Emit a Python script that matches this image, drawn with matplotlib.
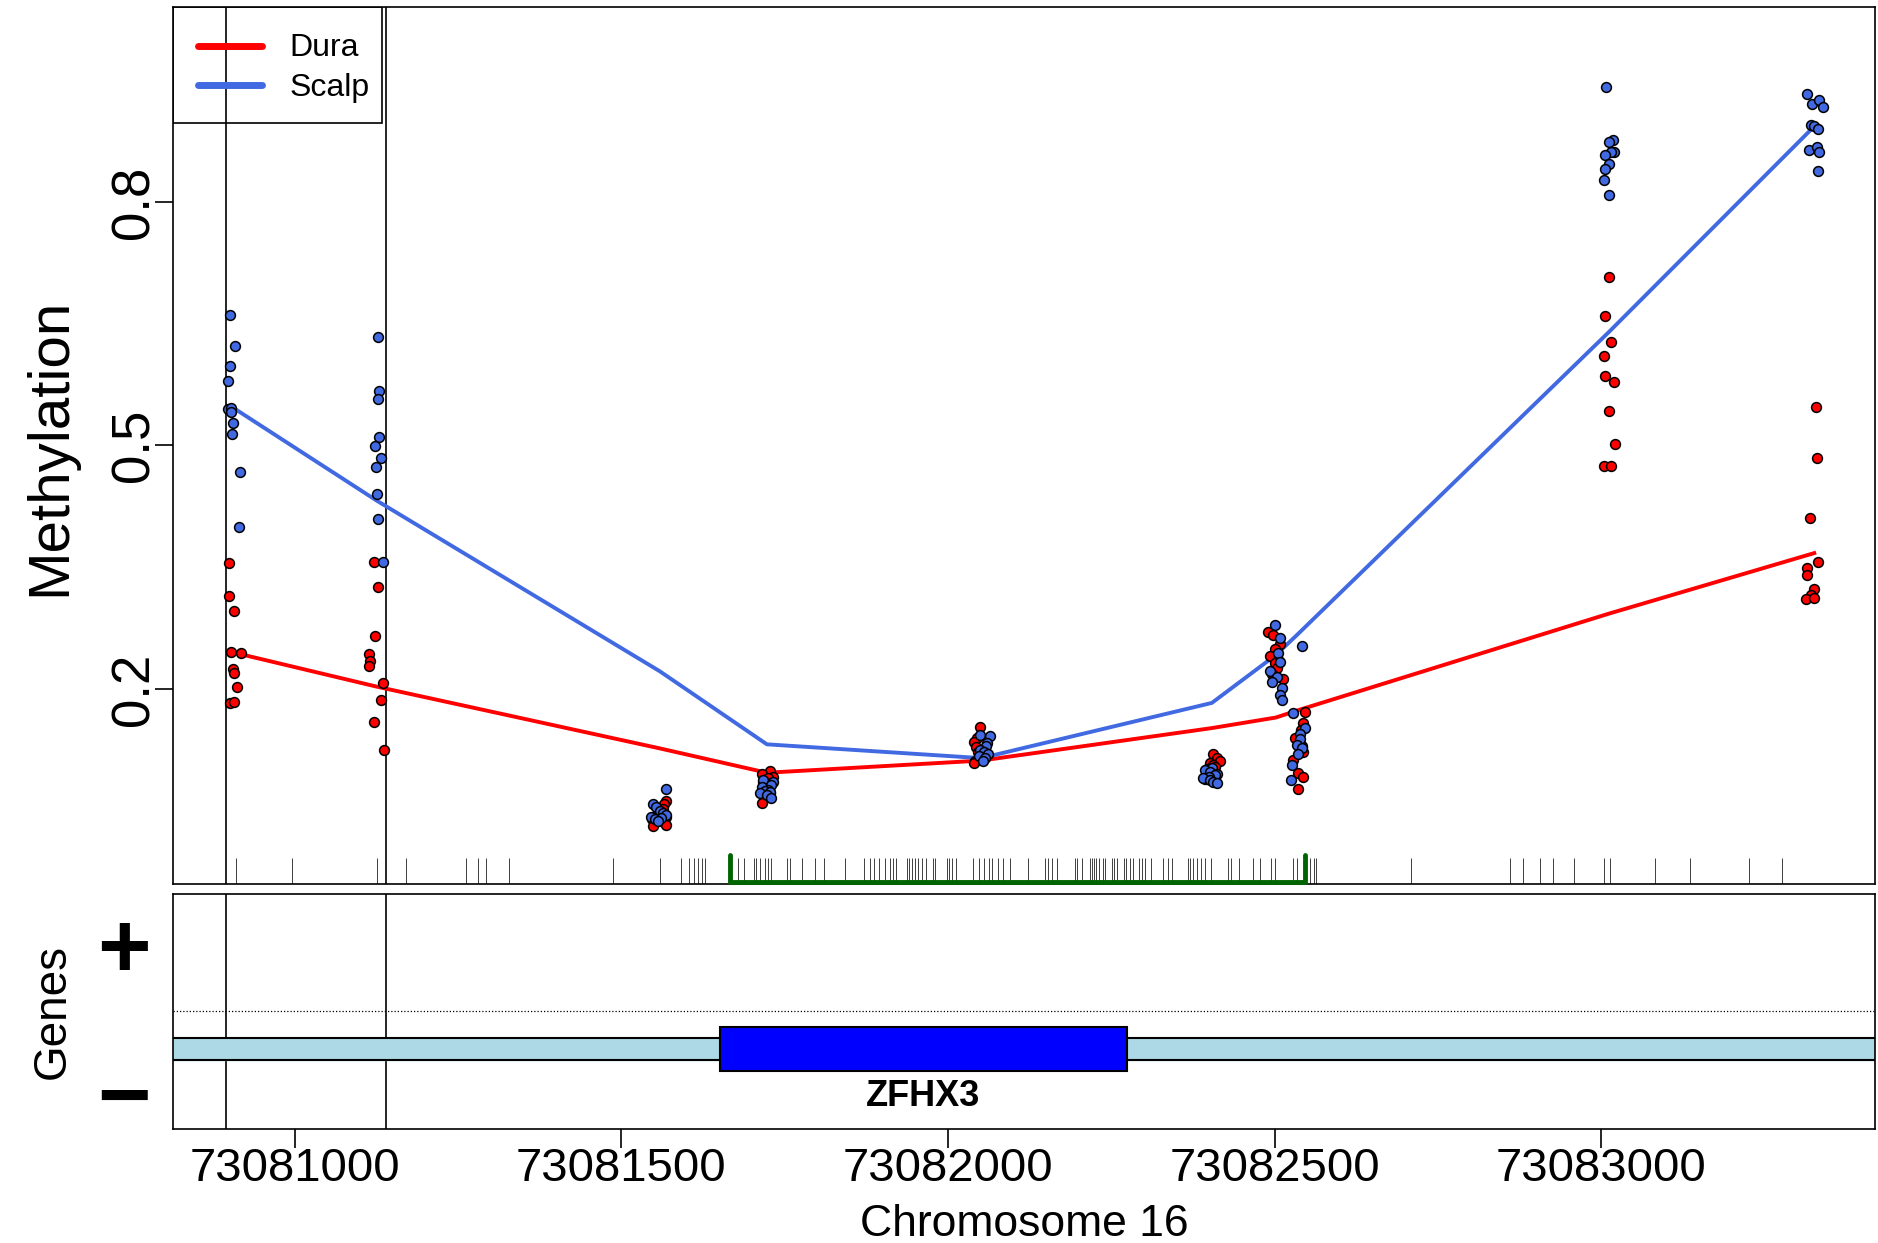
import matplotlib
matplotlib.use("Agg")
import matplotlib.pyplot as plt
from matplotlib.patches import Rectangle

plt.rcParams['font.family'] = ['Liberation Sans', 'DejaVu Sans']

# CpG sites that carry measurements (bp, chromosome 16)
site_pos = [73080907, 73081126, 73081559, 73081723, 73082051,
            73082404, 73082502, 73082536, 73083012, 73083326]

# smoothed group curves at each site
dura_curve = [0.245, 0.203, 0.127, 0.097, 0.112, 0.152, 0.165, 0.174, 0.293, 0.3675]
scalp_curve = [0.546, 0.432, 0.222, 0.132, 0.115, 0.183, 0.242, 0.268, 0.640, 0.893]

# per-sample methylation at each site and the jitter (bp) seen in the plot
dura_vals = [
    [0.355, 0.315, 0.296, 0.246, 0.244, 0.225, 0.220, 0.202, 0.183, 0.184],
    [0.357, 0.326, 0.265, 0.2435, 0.235, 0.228, 0.208, 0.187, 0.160, 0.125],
    [0.062, 0.058, 0.052, 0.047, 0.043, 0.040, 0.037, 0.036, 0.033, 0.032],
    [0.099, 0.095, 0.092, 0.090, 0.086, 0.084, 0.080, 0.078, 0.072, 0.060],
    [0.153, 0.140, 0.135, 0.129, 0.125, 0.122, 0.118, 0.115, 0.112, 0.109],
    [0.120, 0.115, 0.112, 0.109, 0.106, 0.104, 0.101, 0.098, 0.094, 0.089],
    [0.270, 0.267, 0.255, 0.250, 0.241, 0.236, 0.232, 0.226, 0.218, 0.212],
    [0.172, 0.158, 0.150, 0.140, 0.130, 0.123, 0.113, 0.097, 0.092, 0.077],
    [0.707, 0.659, 0.628, 0.610, 0.585, 0.578, 0.543, 0.502, 0.475, 0.475],
    [0.547, 0.485, 0.411, 0.357, 0.349, 0.341, 0.323, 0.316, 0.311, 0.312],
]
dura_jit = [
    [-7, -8, 0.5, -3.5, 10.7, -1, 0.5, 5.6, -6, 0.5],
    [-5, 2.5, -2.5, -12, -10, -12, 9, 6, -5, 10.7],
    [9, 7, 5, -3, 10, -12, 2, -8, 10, -11],
    [4.6, -8, 9.7, 2, -5.6, 7, -3, 0, 5, -8],
    [-2.6, -6.6, -11.7, -7.6, 3, -5, 0, 5, -9, -11],
    [2.5, 8.6, 12.7, -2.6, 2.5, 5, -7.6, -5, 0, -10],
    [-11.8, -4, 6, -2, -9.2, 4, -1.5, 2, -6, 11.2],
    [10.7, 8.2, 4, -4.6, 6, 8.2, -8.2, 0.5, 8.2, 0.5],
    [0.5, -5.6, 2.6, -7.2, -6, 8, 0, 9.7, -7.2, 2.6],
    [2, 4.6, -7, 5.6, -10.7, -10.7, -1, -4.6, -12, -1],
]
scalp_vals = [
    [0.661, 0.623, 0.598, 0.580, 0.545, 0.546, 0.541, 0.528, 0.514, 0.467, 0.400],
    [0.633, 0.567, 0.557, 0.510, 0.499, 0.484, 0.474, 0.440, 0.410, 0.357],
    [0.077, 0.058, 0.055, 0.050, 0.047, 0.045, 0.043, 0.041, 0.040, 0.038],
    [0.088, 0.085, 0.082, 0.079, 0.076, 0.075, 0.073, 0.072, 0.070, 0.066],
    [0.143, 0.142, 0.134, 0.130, 0.125, 0.123, 0.120, 0.118, 0.115, 0.112],
    [0.103, 0.100, 0.098, 0.096, 0.094, 0.092, 0.090, 0.088, 0.086, 0.084],
    [0.279, 0.263, 0.245, 0.233, 0.222, 0.215, 0.209, 0.201, 0.193, 0.187],
    [0.2525, 0.170, 0.152, 0.145, 0.138, 0.131, 0.127, 0.120, 0.107, 0.088],
    [0.942, 0.876, 0.874, 0.862, 0.861, 0.858, 0.847, 0.841, 0.827, 0.809],
    [0.933, 0.921, 0.925, 0.917, 0.895, 0.894, 0.890, 0.864, 0.868, 0.861, 0.838],
]
scalp_jit = [
    [-6, 1.5, -5, -9, -9, -3.5, -3.5, -1, -3, 9, 7.7],
    [1, 3, 1, 3.5, -3, 6, -1, 0, 2, 10],
    [9.2, -10, -5, 0, 5, 10, -12.7, 2.5, -7.6, -2.5],
    [-5.6, 9.7, 7, -8, 2, -3, 5, -10.7, 0, 6],
    [-1.5, 12.7, 8.7, 7.6, -1.5, 4, 10, -3, 6, 2],
    [0, -10.2, -2.6, 8.6, 5, -5, -12.8, -2.6, 2, 8.6],
    [-1.5, 6, 4, 6, -9.2, 2, -6.6, 8.7, 6, 8.7],
    [6.5, -7.1, 10.7, 3, 3, -2, 5.6, 0, -9.7, -11.2],
    [-4.6, 5.6, 0.5, 7.7, 3, -6, 0.5, -5.6, -7.7, 0],
    [-11, -3.5, 6.6, 12.7, -4.6, -1, 5.6, -8.7, 4, 8, 5.6],
]

# all CpGs in the window (rug)
cpg_pos = [
    73080910, 73080996, 73081126, 73081170, 73081262, 73081281, 73081293, 73081328,
    73081488, 73081559, 73081592, 73081604, 73081611, 73081618, 73081623, 73081629,
    73081679, 73081688, 73081703, 73081707, 73081712, 73081720, 73081725, 73081730,
    73081754, 73081758, 73081776, 73081796, 73081811, 73081842, 73081872, 73081881,
    73081887, 73081895, 73081903, 73081912, 73081916, 73081920, 73081937, 73081940,
    73081945, 73081950, 73081954, 73081960, 73081967, 73081977, 73081981, 73081998,
    73082002, 73082006, 73082013, 73082039, 73082047, 73082055, 73082063, 73082067,
    73082077, 73082085, 73082095, 73082123, 73082149, 73082154, 73082160, 73082167,
    73082194, 73082197, 73082205, 73082218, 73082221, 73082224, 73082227, 73082231,
    73082237, 73082241, 73082251, 73082255, 73082259, 73082269, 73082273, 73082278,
    73082283, 73082293, 73082297, 73082302, 73082311, 73082330, 73082337, 73082343,
    73082367, 73082371, 73082375, 73082381, 73082387, 73082393, 73082403, 73082429,
    73082433, 73082445, 73082467, 73082477, 73082495, 73082501, 73082528, 73082535,
    73082555, 73082560, 73082564, 73082709, 73082861, 73082880, 73082906, 73082926,
    73082959, 73083004, 73083014, 73083082, 73083136, 73083226, 73083277,
]

island = (73081666, 73082546)          # green bracket
marks = [73080895, 73081140]           # vertical reference lines
gene_name = "ZFHX3"
gene_exon = (73081651, 73082274)
x_ticks = [73081000, 73081500, 73082000, 73082500, 73083000]
y_ticks = [0.2, 0.5, 0.8]

xlim = (73080814, 73083419)
red = "#FF0000"
blue = "#4169E1"

fig = plt.figure(figsize=(18.78, 12.43), dpi=100)
ax = fig.add_axes([0.09212, 0.28882, 0.90628, 0.70555])
gx = fig.add_axes([0.09212, 0.09139, 0.90628, 0.18978])

for a in (ax, gx):
    a.set_xlim(xlim)
    for s in a.spines.values():
        s.set_linewidth(1.2)
    for m in marks:
        a.axvline(m, color="black", lw=1.2, zorder=1)

# --- methylation panel ---
ax.set_ylim(-0.04, 1.04)
ax.plot(site_pos, dura_curve, color=red, lw=2.8, zorder=2)
ax.plot(site_pos, scalp_curve, color=blue, lw=2.8, zorder=2)
for i, p in enumerate(site_pos):
    ax.scatter([p + j for j in dura_jit[i]], dura_vals[i], s=50, c=red,
               edgecolors="black", linewidths=1.1, zorder=3)
    ax.scatter([p + j for j in scalp_jit[i]], scalp_vals[i], s=50, c=blue,
               edgecolors="black", linewidths=1.1, zorder=3)

ax.vlines(cpg_pos, -0.04, -0.008, color="0.25", lw=0.7, zorder=1)
ax.plot([island[0], island[0], island[1], island[1]], [-0.004, -0.038, -0.038, -0.004],
        color="#006400", lw=3.5, solid_capstyle="round", solid_joinstyle="round",
        zorder=4, clip_on=False)

ax.set_xticks([])
ax.set_yticks(y_ticks)
ax.set_yticklabels([str(v) for v in y_ticks], rotation=90, va="center")
ax.tick_params(axis="y", length=13, width=1.2, labelsize=38, pad=-3)

fig.text(0.0266, 0.6404, "Methylation", rotation=90, ha="center", va="center", fontsize=42)

# legend box
ax.add_patch(Rectangle((0, 0.868), 0.123, 0.132, transform=ax.transAxes,
                       fill=False, ec="black", lw=1.2, zorder=5))
for yy, col, lab in [(0.9557, red, "Dura"), (0.911, blue, "Scalp")]:
    ax.plot([0.0149, 0.0521], [yy, yy], transform=ax.transAxes, color=col, lw=5,
            solid_capstyle="round", zorder=5)
    ax.text(0.0682, yy - 0.003, lab, transform=ax.transAxes, fontsize=23,
            va="center", zorder=5)

# --- gene panel ---
gx.set_ylim(0, 1)
gx.axhline(0.5, color="black", lw=0.9, ls=(0, (1, 1.6)))
gx.axhspan(0.294, 0.386, color="#ADD8E6", zorder=1)
gx.axhline(0.294, color="black", lw=1.5, zorder=1.5)
gx.axhline(0.386, color="black", lw=1.5, zorder=1.5)
gx.add_patch(Rectangle((gene_exon[0], 0.2476), gene_exon[1] - gene_exon[0], 0.1874,
                       fc="#0000FF", ec="black", lw=1.5, zorder=2))
gx.text((gene_exon[0] + gene_exon[1]) / 2, 0.139, gene_name, ha="center", va="center",
        fontsize=26, fontweight="bold")
gx.text(-0.029, 0.748, "+", transform=gx.transAxes, ha="center", va="center",
        fontsize=66, fontweight="bold")
gx.text(-0.029, 0.117, "\u2212", transform=gx.transAxes, ha="center", va="center",
        fontsize=66, fontweight="bold")
fig.text(0.0281, 0.186, "Genes", rotation=90, ha="center", va="center", fontsize=33)

gx.set_yticks([])
gx.set_xticks(x_ticks)
gx.set_xticklabels([str(v) for v in x_ticks])
gx.tick_params(axis="x", length=14, width=1.2, labelsize=34, pad=-1)
fig.text(0.5453, 0.0056, "Chromosome 16", ha="center", va="baseline", fontsize=32)

fig.savefig("out.png", dpi=100)
